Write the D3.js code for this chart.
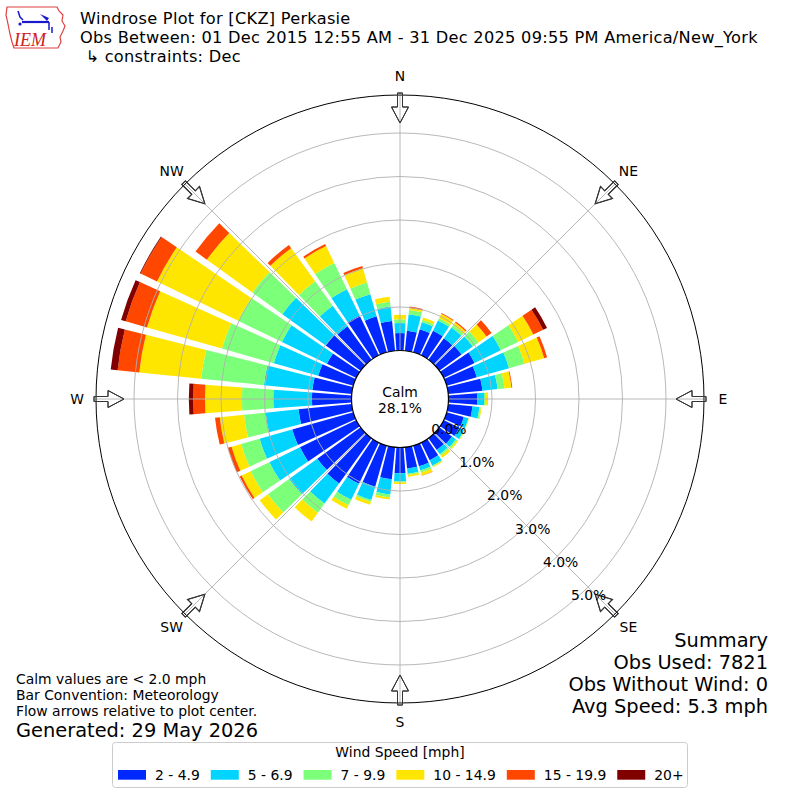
<!DOCTYPE html>
<html>
<head>
<meta charset="utf-8">
<script src="https://cdn.jsdelivr.net/npm/d3@7"></script>
<style>
  html, body { margin: 0; padding: 0; background: #fff; }
  svg { display: block; font-family: "DejaVu Sans", sans-serif; }
</style>
</head>
<body>
<svg id="chart" width="800" height="800"></svg>
<script>
// ---------------- DATA ----------------
const directions = [0, 10, 20, 30, 40, 50, 60, 70, 80, 90, 100, 110, 120, 130, 140, 150, 160, 170,
                    180, 190, 200, 210, 220, 230, 240, 250, 260, 270, 280, 290, 300, 310, 320, 330, 340, 350];
const speedBins = ["2 - 4.9", "5 - 6.9", "7 - 9.9", "10 - 14.9", "15 - 19.9", "20+"];
const binColors = ["#0028ff", "#00d4ff", "#7cff79", "#ffe600", "#ff4700", "#800000"];

// percent frequency per direction, per speed bin
const s2to5   = [0.40, 0.46, 0.55, 0.63, 0.61, 0.63, 0.79, 0.72, 0.79, 0.66, 0.56, 0.41, 0.40, 0.36, 0.33, 0.45, 0.49, 0.49,
                 0.59, 0.74, 0.98, 1.05, 1.28, 1.23, 1.44, 1.46, 1.23, 0.91, 0.91, 0.84, 0.75, 0.99, 0.95, 1.02, 0.86, 0.69];
const s5to7   = [0.23, 0.38, 0.17, 0.26, 0.30, 0.32, 0.67, 0.77, 0.35, 0.16, 0.16, 0.11, 0.12, 0.11, 0.12, 0.14, 0.10, 0.12,
                 0.19, 0.35, 0.32, 0.41, 0.57, 0.80, 0.78, 0.78, 0.76, 0.89, 1.12, 1.06, 1.15, 1.23, 0.58, 0.67, 0.53, 0.33];
const s7to10  = [0.09, 0.10, 0.05, 0.06, 0.07, 0.16, 0.44, 0.37, 0.16, 0.04, 0.03, 0.01, 0.02, 0.04, 0.04, 0.02, 0.05, 0.03,
                 0.02, 0.07, 0.04, 0.14, 0.26, 0.60, 0.48, 0.44, 0.50, 0.72, 1.45, 1.24, 1.12, 0.85, 0.69, 0.67, 0.28, 0.11];
const s10to15 = [0.10, 0.05, 0.06, 0.11, 0.07, 0.23, 0.39, 0.47, 0.16, 0.05, 0.02, 0.01, 0.01, 0.03, 0.06, 0.02, 0.07, 0.04,
                 0.04, 0.05, 0.07, 0.09, 0.25, 0.23, 0.23, 0.23, 0.56, 0.85, 1.43, 1.79, 2.07, 1.29, 0.94, 0.43, 0.34, 0.12];
const s15to20 = [0.00, 0.03, 0.00, 0.02, 0.03, 0.14, 0.25, 0.07, 0.02, 0.00, 0.00, 0.00, 0.00, 0.00, 0.00, 0.00, 0.01, 0.00,
                 0.00, 0.00, 0.00, 0.00, 0.00, 0.00, 0.05, 0.09, 0.11, 0.27, 0.50, 0.51, 0.42, 0.32, 0.09, 0.05, 0.05, 0.00];
const s20plus = [0.00, 0.00, 0.00, 0.00, 0.00, 0.00, 0.10, 0.00, 0.00, 0.00, 0.00, 0.00, 0.00, 0.00, 0.00, 0.00, 0.00, 0.00,
                 0.00, 0.00, 0.00, 0.00, 0.00, 0.00, 0.00, 0.00, 0.00, 0.10, 0.16, 0.11, 0.02, 0.00, 0.00, 0.00, 0.00, 0.00];
const seriesValues = [s2to5, s5to7, s7to10, s10to15, s15to20, s20plus];

const radialTicks = [0, 1, 2, 3, 4, 5];
const radialTickLabels = ["0.0%", "1.0%", "2.0%", "3.0%", "4.0%", "5.0%"];
const compassNames = ["N", "NE", "E", "SE", "S", "SW", "W", "NW"];
const compassAngles = [0, 45, 90, 135, 180, 225, 270, 315];

const calmPct = "28.1%";
const titleLines = ["Windrose Plot for [CKZ] Perkasie",
                    "Obs Between: 01 Dec 2015 12:55 AM - 31 Dec 2025 09:55 PM America/New_York",
                    "\u00a0\u21b3 constraints: Dec"];
const summaryLines = ["Summary", "Obs Used: 7821", "Obs Without Wind: 0", "Avg Speed: 5.3 mph"];
const noteLines = ["Calm values are < 2.0 mph", "Bar Convention: Meteorology", "Flow arrows relative to plot center."];
const generatedText = "Generated: 29 May 2026";
const legendTitle = "Wind Speed [mph]";

// ---------------- DRAW ----------------
const svg = d3.select("#chart");
svg.append("rect").attr("width", 800).attr("height", 800).attr("fill", "#fff");

const cx = 400, cy = 399;
const rCalm = 48.5, rOuter = 304;
const r = d3.scaleLinear().domain([0, 5.874]).range([rCalm, rOuter]);
const deg = Math.PI / 180;
const halfWidth = 4.2;

// ---- logo ----
const logo = svg.append("g");
logo.append("path")
  .attr("d", "M7,7 L57,7 L59,11 L63,15 L62,21 L65,26 L63,31 L60,37 L61,42 L58,48 L14,48 L12,42 L10,34 L8,24 L6,15 Z")
  .attr("fill", "#fff").attr("stroke", "#e04040").attr("stroke-width", 1.2);
logo.append("path").attr("d", "M22,22 L49,22").attr("stroke", "#1a1acc").attr("stroke-width", 2.2);
logo.append("path").attr("d", "M18,11 L20,17 L23,20").attr("stroke", "#1a1acc").attr("stroke-width", 1.5).attr("fill", "none");
logo.append("path").attr("d", "M40,14 L49,18 L47,21 Z").attr("fill", "#1a1acc");
logo.append("path").attr("d", "M49,22 L49,30 M52,27 L52,33").attr("stroke", "#1a1acc").attr("stroke-width", 1.5);
logo.append("circle").attr("cx", 20).attr("cy", 24).attr("r", 1.6).attr("fill", "#1a1acc");
logo.append("text").attr("x", 14).attr("y", 46).text("IEM")
  .attr("font-family", "'Liberation Serif', serif").attr("font-style", "italic")
  .attr("font-size", 18).attr("fill", "#d02020");

// ---- title ----
const titleY = [24, 43, 62];
titleLines.forEach((t, i) => {
  svg.append("text").attr("x", 80).attr("y", titleY[i]).attr("font-size", 16.2)
    .attr("letter-spacing", 0.27).attr("fill", "#000").text(t);
});

const g = svg.append("g").attr("transform", `translate(${cx},${cy})`);

// ---- bars ----
const arc = d3.arc();
directions.forEach((dir, i) => {
  let cum = 0;
  seriesValues.forEach((ser, j) => {
    const v = ser[i];
    if (v > 0) {
      g.append("path")
        .attr("d", arc({
          innerRadius: r(cum), outerRadius: r(cum + v),
          startAngle: (dir - halfWidth) * deg, endAngle: (dir + halfWidth) * deg
        }))
        .attr("fill", binColors[j]);
    }
    cum += v;
  });
});

// ---- arrows (behind grid lines) ----
const arrowPts = [[-2.5, -306], [2.5, -306], [2.5, -292], [8.5, -292], [0, -276], [-8.5, -292], [-2.5, -292]];
compassAngles.forEach(a => {
  g.append("polygon")
    .attr("points", arrowPts.map(p => p.join(",")).join(" "))
    .attr("transform", `rotate(${a})`)
    .attr("fill", "#fff").attr("stroke", "#333").attr("stroke-width", 1);
});

// ---- grid ----
radialTicks.slice(1).forEach(t => {
  g.append("circle").attr("r", r(t)).attr("fill", "none").attr("stroke", "#b0b0b0").attr("stroke-width", 0.9);
});
compassAngles.forEach(a => {
  g.append("line")
    .attr("x1", 0).attr("y1", 0)
    .attr("x2", rOuter * Math.sin(a * deg)).attr("y2", -rOuter * Math.cos(a * deg))
    .attr("stroke", "#b0b0b0").attr("stroke-width", 0.9);
});

// ---- outer circle ----
g.append("circle").attr("r", rOuter).attr("fill", "none").attr("stroke", "#000").attr("stroke-width", 1);
// arrow outlines over the frame
compassAngles.forEach(a => {
  g.append("polygon")
    .attr("points", arrowPts.map(p => p.join(",")).join(" "))
    .attr("transform", `rotate(${a})`)
    .attr("fill", "none").attr("stroke", "#333").attr("stroke-width", 1);
});

// ---- calm circle ----
g.append("circle").attr("r", rCalm).attr("fill", "#fff").attr("stroke", "#000").attr("stroke-width", 1.2);
g.append("text").attr("x", 0).attr("y", -2).attr("text-anchor", "middle").attr("font-size", 13.9).text("Calm");
g.append("text").attr("x", 0).attr("y", 14).attr("text-anchor", "middle").attr("font-size", 13.9).text(calmPct);

// ---- compass labels ----
compassNames.forEach((n, i) => {
  const a = compassAngles[i] * deg, rr = 323;
  g.append("text")
    .attr("x", rr * Math.sin(a)).attr("y", -rr * Math.cos(a))
    .attr("text-anchor", "middle").attr("dominant-baseline", "central")
    .attr("font-size", 13.9).text(n);
});

// ---- radial tick labels ----
const labelAngle = 140 * deg;
radialTicks.forEach((t, i) => {
  const rr = r(t);
  g.append("text")
    .attr("x", rr * Math.sin(labelAngle)).attr("y", -rr * Math.cos(labelAngle) - 2.5)
    .attr("font-size", 13.9).text(radialTickLabels[i]);
});

// ---- summary ----
const sumY = [647, 669, 691, 713];
summaryLines.forEach((t, i) => {
  svg.append("text").attr("x", 768).attr("y", sumY[i]).attr("text-anchor", "end").attr("font-size", 19.4).text(t);
});

// ---- notes ----
const noteY = [684, 700, 716];
noteLines.forEach((t, i) => {
  svg.append("text").attr("x", 16).attr("y", noteY[i]).attr("font-size", 13.9).text(t);
});
svg.append("text").attr("x", 16).attr("y", 737).attr("font-size", 19.4).text(generatedText);

// ---- legend ----
const leg = svg.append("g");
leg.append("rect").attr("x", 112.5).attr("y", 742.5).attr("width", 575).attr("height", 45)
  .attr("rx", 3).attr("fill", "#fff").attr("stroke", "#cccccc").attr("stroke-width", 1);
leg.append("text").attr("x", 400).attr("y", 757).attr("text-anchor", "middle").attr("font-size", 13.9).text(legendTitle);
let lx = 118;
speedBins.forEach((b, j) => {
  leg.append("rect").attr("x", lx).attr("y", 770).attr("width", 28).attr("height", 9.7).attr("fill", binColors[j]);
  const tx = leg.append("text").attr("x", lx + 37).attr("y", 779.5).attr("font-size", 13.9).text(b);
  const w = tx.node().getComputedTextLength();
  lx = lx + 37 + w + 11;
});
</script>
</body>
</html>
